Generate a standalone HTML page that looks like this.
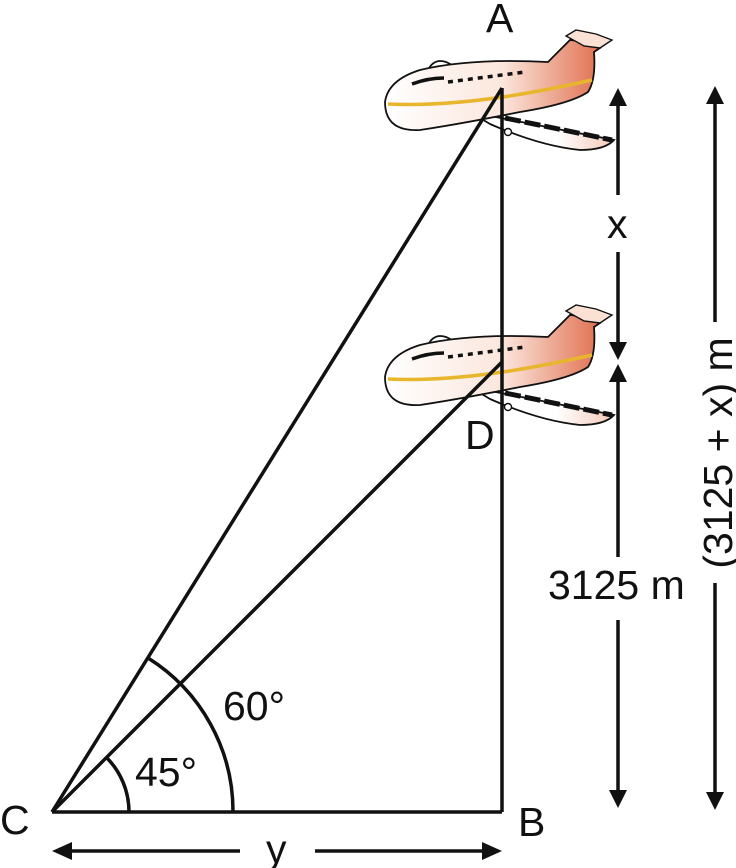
<!DOCTYPE html>
<html><head><meta charset="utf-8"><style>
html,body{margin:0;padding:0;background:#fff}
svg{display:block}
text{font-family:"Liberation Sans","DejaVu Sans",sans-serif;fill:#111}
</style></head><body>
<svg width="736" height="868" viewBox="0 0 736 868" xmlns="http://www.w3.org/2000/svg">
<defs>
<linearGradient id="body" x1="0" y1="0" x2="1" y2="0">
<stop offset="0" stop-color="#fff"/><stop offset="0.55" stop-color="#fbe6dc"/><stop offset="1" stop-color="#e07050"/>
</linearGradient>
<linearGradient id="wing" x1="0" y1="0" x2="1" y2="0">
<stop offset="0" stop-color="#fff"/><stop offset="0.6" stop-color="#fff"/><stop offset="1" stop-color="#f3c9b8"/>
</linearGradient>
<g id="plane">
<path d="M470,112 L614,140 Q605,150 580,150 Q540,146 490,124 Z" fill="url(#wing)" stroke="#111" stroke-width="1.8"/>
<path d="M505,118 L612,140" stroke="#111" stroke-width="5" stroke-dasharray="16 4"/>
<path d="M428,70 Q434,58 446,62 L458,68 Z" fill="#fff" stroke="#111" stroke-width="1.8"/>
<path d="M385,102 Q388,80 420,70 Q470,58 548,62 L570,40 L588,42 L600,48 L594,52 Q596,80 588,92 Q570,104 520,112 Q460,124 420,130 Q385,132 385,102 Z" fill="url(#body)" stroke="#111" stroke-width="1.8"/>
<path d="M566,36 L576,30 L596,34 L612,40 L600,48 L584,46 Z" fill="#fbe0d4" stroke="#111" stroke-width="1.4"/>
<path d="M388,104 Q470,108 592,80" stroke="#e8b62c" stroke-width="3.5" fill="none"/>
<path d="M412,84 Q428,78 444,78" stroke="#111" stroke-width="3.5" fill="none"/>
<path d="M448,82 L525,72" stroke="#111" stroke-width="3.5" stroke-dasharray="5 5"/>
<circle cx="508" cy="132" r="3.5" fill="#fff" stroke="#111" stroke-width="1.4"/>
</g>
</defs>
<use href="#plane"/>
<use href="#plane" transform="translate(0,275)"/>

<g stroke="#111" stroke-width="3.5" fill="none">
<line x1="52" y1="812" x2="502" y2="812"/>
<line x1="502" y1="88" x2="502" y2="812"/>
<line x1="52" y1="812" x2="502" y2="88"/>
<line x1="52" y1="812" x2="502" y2="362"/>
<path d="M129,812 A77,77 0 0 0 106,757"/>
<path d="M233,812 A181,181 0 0 0 148,658"/>
<line x1="618" y1="100" x2="618" y2="195"/>
<line x1="618" y1="252" x2="618" y2="348"/>
<line x1="618" y1="377" x2="618" y2="557"/>
<line x1="618" y1="620" x2="618" y2="796"/>
<line x1="715" y1="100" x2="715" y2="322"/>
<line x1="715" y1="583" x2="715" y2="796"/>
<line x1="68" y1="851" x2="240" y2="851"/>
<line x1="315" y1="851" x2="488" y2="851"/>
</g>
<g fill="#111">
<polygon points="618,88 609,106 627,106"/>
<polygon points="618,360 609,342 627,342"/>
<polygon points="618,364 609,382 627,382"/>
<polygon points="618,808 609,790 627,790"/>
<polygon points="715,86 706,104 724,104"/>
<polygon points="715,810 706,792 724,792"/>
<polygon points="52,851 72,842 72,860"/>
<polygon points="502,851 482,842 482,860"/>
</g>
<g font-size="41">
<text x="486" y="32">A</text>
<text x="465" y="449">D</text>
<text x="0" y="834">C</text>
<text x="518" y="836">B</text>
<text x="607" y="238">x</text>
<text x="266" y="863">y</text>
<text x="548" y="599">3125 m</text>
<text x="223" y="720">60°</text>
<text x="135" y="786">45°</text>
<text transform="translate(732,453) rotate(-90)" text-anchor="middle">(3125 + x) m</text>
</g>
</svg>
</body></html>
